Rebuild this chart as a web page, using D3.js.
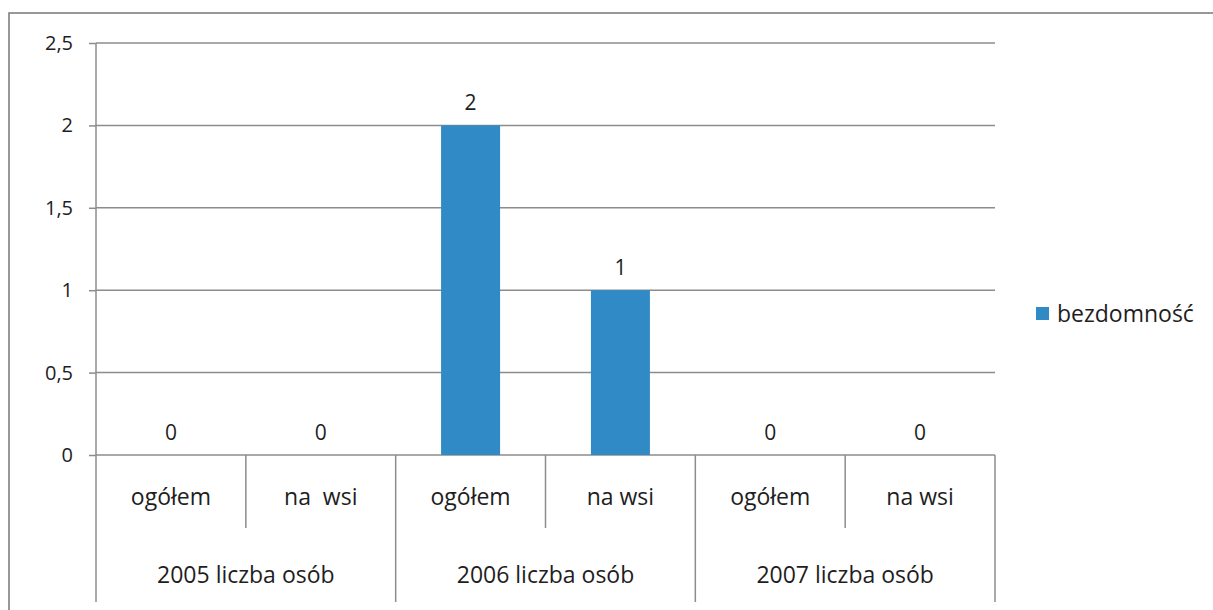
<!DOCTYPE html>
<html>
<head>
<meta charset="utf-8">
<script src="https://cdn.jsdelivr.net/npm/d3@7"></script>
<style>
  body { margin: 0; background: #fff; }
  text { font-family: "Open Sans", Lato, sans-serif; fill: #1e1e1e; }
</style>
</head>
<body>
<div id="chart"></div>
<script>
// data
var groups     = ["2005 liczba osób", "2006 liczba osób", "2007 liczba osób"];
var subLabels  = ["ogółem", "na  wsi", "ogółem", "na wsi", "ogółem", "na wsi"];
var subGroup   = [0, 0, 1, 1, 2, 2];
var values     = [0, 0, 2, 1, 0, 0];
var yTicks     = [0, 0.5, 1, 1.5, 2, 2.5];
var seriesName = "bezdomność";

var W = 1213, H = 610;
var margin = {top: 43, left: 96, right: 218, bottom: 155};
var width  = W - margin.left - margin.right,
    height = H - margin.top - margin.bottom;
var barColor = "#2f8ac6", lineColor = "#8c8c8c";

var svg = d3.select("#chart").append("svg")
    .attr("width", W).attr("height", H);

// outer frame (only top and left visible in the scan)
svg.append("path")
    .attr("d", "M9," + H + "V13H" + W)
    .attr("fill", "none").attr("stroke", "#777").attr("stroke-width", 1.5);

var g = svg.append("g")
    .attr("transform", "translate(" + margin.left + "," + margin.top + ")");

var slot = width / values.length;

var y = d3.scaleLinear()
    .domain([0, 2.5])
    .range([height, 0]);

// gridlines + y axis
var yAxis = g.append("g")
    .call(d3.axisLeft(y).tickValues(yTicks).tickSize(7)
      .tickFormat(function(d) { return String(d).replace(".", ","); }));
yAxis.select(".domain").remove();
yAxis.selectAll(".tick line").attr("stroke", lineColor).attr("stroke-width", 1.5);
yAxis.selectAll(".tick text").attr("x", -23).style("font-size", "20px");

g.selectAll(".grid")
  .data(yTicks)
  .enter().append("line")
    .attr("x1", 0).attr("x2", width)
    .attr("y1", function(d) { return y(d); })
    .attr("y2", function(d) { return y(d); })
    .attr("stroke", lineColor).attr("stroke-width", 1.5);

// bars
g.selectAll(".bar")
  .data(values)
  .enter().append("rect")
    .attr("x", function(d, i) { return i * slot + (slot - 59) / 2; })
    .attr("width", 59)
    .attr("y", function(d) { return y(d); })
    .attr("height", function(d) { return height - y(d); })
    .attr("fill", barColor);

// value labels
g.selectAll(".val")
  .data(values)
  .enter().append("text")
    .attr("x", function(d, i) { return (i + 0.5) * slot; })
    .attr("y", function(d) { return y(d) - 15; })
    .attr("text-anchor", "middle")
    .style("font-size", "21px")
    .text(function(d) { return d; });

// y axis line, extends into category table
g.append("line")
    .attr("x1", 0).attr("x2", 0).attr("y1", 0).attr("y2", height + 147)
    .attr("stroke", lineColor).attr("stroke-width", 1.5);

// sub-category dividers & group dividers
d3.range(1, values.length + 1).forEach(function(i) {
  var isGroup = (i === values.length) || subGroup[i] !== subGroup[i - 1];
  g.append("line")
      .attr("x1", i * slot).attr("x2", i * slot)
      .attr("y1", height).attr("y2", height + (isGroup ? 147 : 73))
      .attr("stroke", lineColor).attr("stroke-width", 1.5);
});

g.selectAll(".sub")
  .data(subLabels)
  .enter().append("text")
    .attr("x", function(d, i) { return (i + 0.5) * slot; })
    .attr("y", height + 50)
    .attr("text-anchor", "middle")
    .style("font-size", "23px")
    .style("white-space", "pre")
    .attr("xml:space", "preserve")
    .text(function(d) { return d; });

g.selectAll(".grp")
  .data(groups)
  .enter().append("text")
    .attr("x", function(d, i) { return (i * 2 + 1) * slot; })
    .attr("y", height + 128)
    .attr("text-anchor", "middle")
    .style("font-size", "23px")
    .text(function(d) { return d; });

// legend
var leg = svg.append("g").attr("transform", "translate(1036,307)");
leg.append("rect").attr("width", 13).attr("height", 13).attr("fill", barColor);
leg.append("text").attr("x", 21).attr("y", 15)
    .style("font-size", "23px").text(seriesName);
</script>
</body>
</html>
